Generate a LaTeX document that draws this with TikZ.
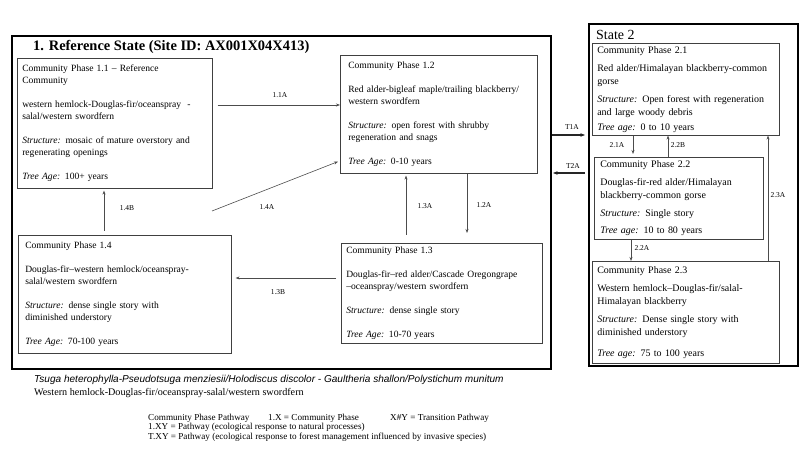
\documentclass[tikz,border=0pt]{standalone}
\usepackage{fontspec}
\setmainfont{Liberation Serif}
\newfontfamily\arialfont{Liberation Sans}
\usetikzlibrary{arrows.meta}

\begin{document}
\begin{tikzpicture}[x=1bp,y=-1bp,
  phase/.style={draw=black!75, line width=0.6pt, anchor=north west, align=left,
    inner xsep=5bp, inner ysep=0pt, font=\fontsize{9.6}{12}\selectfont},
  phasetwo/.style={phase, font=\fontsize{10}{13}\selectfont},
  stateframe/.style={draw, line width=2pt, anchor=north west, inner sep=0pt},
  pathway/.style={draw=black!70, line width=0.6pt, -{Stealth[length=4bp,width=3bp]}},
  transition/.style={draw=black!85, line width=1.1pt, -{Stealth[length=4.5bp,width=3.5bp]}},
  pwlabel/.style={font=\fontsize{7.5}{9}\selectfont, inner sep=1bp}]
\useasboundingbox (0,0) rectangle (800,450);
% State frames
\node[stateframe, minimum width=539bp, minimum height=333bp] (s1) at (11,35) {};
\node[stateframe, minimum width=209bp, minimum height=342bp] (s2) at (588,23) {};
% Titles
\node[anchor=west, inner sep=0pt, font=\fontsize{14.5}{16}\selectfont\bfseries] (t1) at (33,47) {1. Reference State (Site ID: AX001X04X413)};
\node[anchor=west, inner sep=0pt, font=\fontsize{14}{16}\selectfont] (t2) at (596,35) {State 2};
% Community phases, state 1
\node[phase, text width=185bp, minimum height=130bp] (p11) at (17,58) {Community Phase 1.1 -- Reference\\ Community\\[12bp]
  western hemlock-Douglas-fir/oceanspray\ \ -\\ salal/western swordfern\\[12bp]
  \textit{Structure:} mosaic of mature overstory and\\ regenerating openings\\[12bp]
  \textit{Tree Age:} 100+ years};
\node[phase, inner xsep=8bp, text width=181bp, minimum height=118bp] (p12) at (340,55) {Community Phase 1.2\\[12bp]
  Red alder-bigleaf maple/trailing blackberry/\\ western swordfern\\[12bp]
  \textit{Structure:} open forest with shrubby\\ regeneration and snags\\[12bp]
  \textit{Tree Age:} 0-10 years};
\node[phase, text width=191bp, minimum height=100bp] (p13) at (341,243) {Community Phase 1.3\\[12bp]
  Douglas-fir--red alder/Cascade Oregongrape\\ --oceanspray/western swordfern\\[12bp]
  \textit{Structure:} dense single story\\[12bp]
  \textit{Tree Age:} 10-70 years};
\node[phase, inner xsep=7bp, text width=199bp, minimum height=118bp] (p14) at (18,235) {Community Phase 1.4\\[12bp]
  Douglas-fir--western hemlock/oceanspray-\\ salal/western swordfern\\[12bp]
  \textit{Structure:} dense single story with\\ diminished understory\\[12bp]
  \textit{Tree Age:} 70-100 years};
% Community phases, state 2
\node[phasetwo, text width=177bp, minimum height=92bp] (p21) at (592,43) {Community Phase 2.1\\[5bp]
  Red alder/Himalayan blackberry-common\\ gorse\\[5bp]
  \textit{Structure:} Open forest with regeneration\\ and large woody debris\\[2bp]
  \textit{Tree age:} 0 to 10 years};
\node[phasetwo, inner xsep=6bp, text width=157bp, minimum height=82bp] (p22) at (594,157) {Community Phase 2.2\\[5bp]
  Douglas-fir-red alder/Himalayan\\ blackberry-common gorse\\[5bp]
  \textit{Structure:} Single story\\[4bp]
  \textit{Tree age:} 10 to 80 years};
\node[phasetwo, text width=177bp, minimum height=102bp] (p23) at (592,261) {Community Phase 2.3\\[5bp]
  Western hemlock--Douglas-fir/salal-\\ Himalayan blackberry\\[5bp]
  \textit{Structure:} Dense single story with\\ diminished understory\\[8bp]
  \textit{Tree age:} 75 to 100 years};
% Pathway positions
\coordinate (y11a) at (0,105);
\coordinate (a14) at (212,211);
\coordinate (x14b) at (104,0);
\coordinate (x13a) at (406,0);
\coordinate (x12a) at (467,0);
\coordinate (y13b) at (0,278);
\coordinate (yt1) at (0,135);
\coordinate (yt2) at (0,173);
\coordinate (x21a) at (633,0);
\coordinate (x22b) at (668,0);
\coordinate (x22a) at (631,0);
\coordinate (x23a) at (768,0);
% Pathways
\draw[pathway, shorten <=5bp] (p11.east |- y11a) -- (p12.west |- y11a);
\draw[pathway] (a14) -- ([xshift=-2bp,yshift=12bp]p12.south west);
\draw[pathway, shorten <=4bp, shorten >=2bp] (p14.north -| x14b) -- (p11.south -| x14b);
\draw[pathway, shorten <=8bp, shorten >=2bp] (p13.north -| x13a) -- (p12.south -| x13a);
\draw[pathway, shorten >=10bp] (p12.south -| x12a) -- (p13.north -| x12a);
\draw[pathway, shorten <=5bp, shorten >=4bp] (p13.west |- y13b) -- (p14.east |- y13b);
\draw[transition, shorten >=3bp] (s1.east |- yt1) -- (s2.west |- yt1);
\draw[transition, shorten <=3bp, shorten >=1bp] (s2.west |- yt2) -- (s1.east |- yt2);
\draw[pathway, shorten >=3bp] (p21.south -| x21a) -- (p22.north -| x21a);
\draw[pathway] (p22.north -| x22b) -- (p21.south -| x22b);
\draw[pathway] (p22.south -| x22a) -- (p23.north -| x22a);
\draw[pathway] (p23.north -| x23a) -- (p21.south -| x23a);
% Labels
\node[pwlabel] (l11a) at (280,95) {1.1A};
\node[pwlabel] (l14a) at (267,207) {1.4A};
\node[pwlabel] (l14b) at (127,208) {1.4B};
\node[pwlabel] (l13a) at (425,206) {1.3A};
\node[pwlabel] (l12a) at (484,205) {1.2A};
\node[pwlabel] (l13b) at (278,292) {1.3B};
\node[pwlabel] (lt1a) at (572,127) {T1A};
\node[pwlabel] (lt2a) at (573,166) {T2A};
\node[pwlabel] (l21a) at (617,145) {2.1A};
\node[pwlabel] (l22b) at (678,145) {2.2B};
\node[pwlabel] (l22a) at (642,248) {2.2A};
\node[pwlabel] (l23a) at (778,195) {2.3A};
% Names below
\node[anchor=west, inner sep=0pt, font=\arialfont\itshape\fontsize{10.1}{12}\selectfont] (sci) at (34,380) {Tsuga heterophylla-Pseudotsuga menziesii/Holodiscus discolor - Gaultheria shallon/Polystichum munitum};
\node[anchor=west, inner sep=0pt, font=\fontsize{10.2}{12}\selectfont] (com) at (34,393) {Western hemlock-Douglas-fir/oceanspray-salal/western swordfern};
% Legend
\node[anchor=north west, align=left, inner sep=0pt, font=\fontsize{9.2}{9.4}\selectfont] (leg) at (148,414) {\makebox[120bp][l]{Community Phase Pathway}\makebox[122bp][l]{1.X = Community Phase}X\#Y = Transition Pathway\\
  1.XY = Pathway (ecological response to natural processes)\\
  T.XY = Pathway (ecological response to forest management influenced by invasive species)};
\end{tikzpicture}
\end{document}
